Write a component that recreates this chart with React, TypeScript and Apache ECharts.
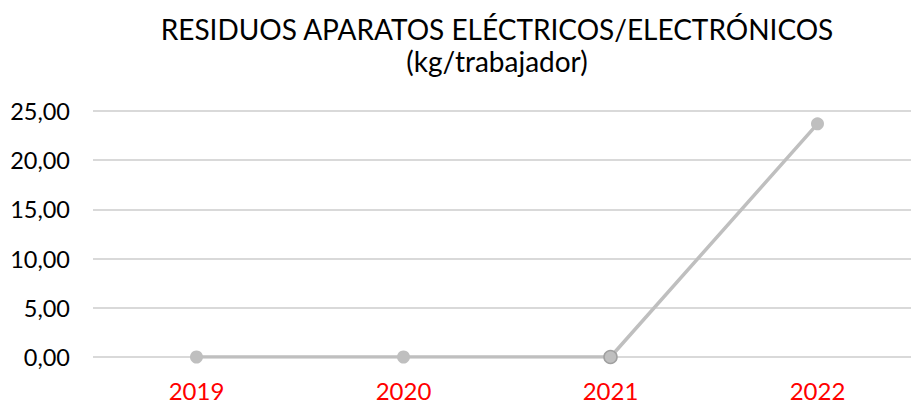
import React, { useEffect, useRef } from "react";
import * as echarts from "echarts";

const titleLines = ["RESIDUOS APARATOS ELÉCTRICOS/ELECTRÓNICOS", "(kg/trabajador)"];
const categories = ["2019", "2020", "2021", "2022"];
const values = [0, 0, 0, 23.7];
const yTicks = { min: 0, max: 25, interval: 5 };

export default function App() {
  const ref = useRef<HTMLDivElement>(null);
  useEffect(() => {
    document.body.style.margin = "0";
    document.body.style.overflow = "hidden";
    const chart = echarts.init(ref.current!, null, { renderer: "svg" });
    chart.setOption({
      animation: false,
      backgroundColor: "#ffffff",
      title: {
        text: titleLines.join("\n"),
        left: 492,
        textAlign: "center",
        top: 8,
        textStyle: {
          fontFamily: "Lato",
          fontWeight: "normal",
          fontSize: 28,
          lineHeight: 32,
          color: "#000000",
        },
      },
      grid: { left: 93, right: 9, top: 111, bottom: 49 },
      xAxis: {
        type: "category",
        data: categories,
        boundaryGap: true,
        axisLine: { show: false },
        axisTick: { show: false },
        axisLabel: {
          color: "#ff0000",
          fontFamily: "Lato",
          fontSize: 24,
          margin: 21,
        },
      },
      yAxis: {
        type: "value",
        min: yTicks.min,
        max: yTicks.max,
        interval: yTicks.interval,
        axisLine: { show: false },
        axisTick: { show: false },
        splitLine: { lineStyle: { color: "#d9d9d9", width: 2 } },
        axisLabel: {
          color: "#000000",
          fontFamily: "Lato",
          fontSize: 23.5,
          margin: 23,
          formatter: (v: number) => v.toFixed(2).replace(".", ","),
        },
      },
      series: [
        {
          type: "line",
          data: values.map((v, i) =>
            i === 2
              ? { value: v, itemStyle: { borderColor: "#a0a0a0", borderWidth: 1.5 } }
              : v
          ),
          symbol: "circle",
          symbolSize: 13,
          lineStyle: { color: "#bfbfbf", width: 3.5 },
          itemStyle: { color: "#bfbfbf" },
        },
      ],
    });
    return () => chart.dispose();
  }, []);
  return (
    <div
      ref={ref}
      style={{ position: "absolute", left: 0, top: 0, width: 930, height: 406 }}
    />
  );
}
